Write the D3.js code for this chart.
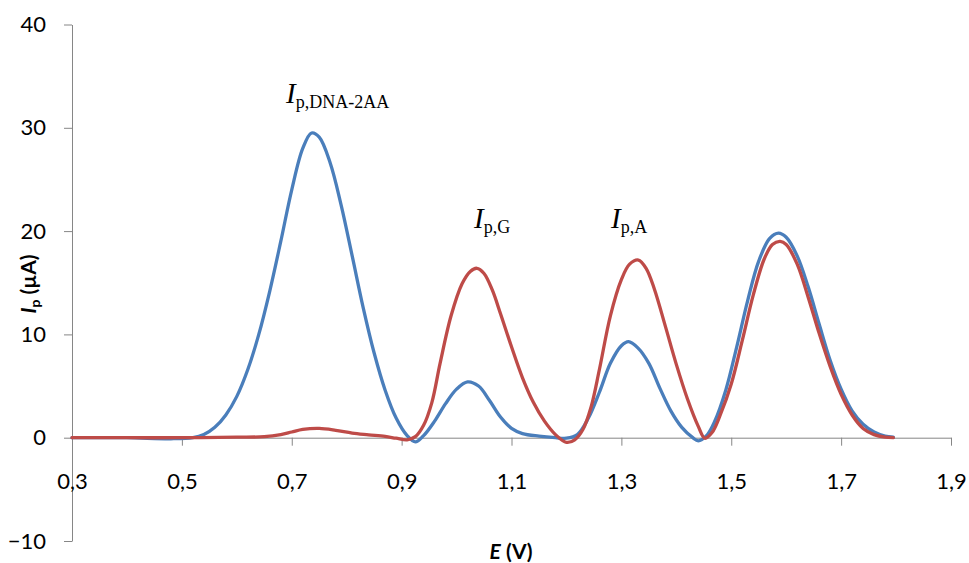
<!DOCTYPE html>
<html><head><meta charset="utf-8">
<script src="https://cdn.jsdelivr.net/npm/d3@7"></script>
<style>body{margin:0;background:#fff}svg{display:block}</style>
</head><body>
<script>
// Data
const xTicks = [0.3, 0.5, 0.7, 0.9, 1.1, 1.3, 1.5, 1.7, 1.9];
const yTicks = [-10, 0, 10, 20, 30, 40];

const blueE = [0.30,0.40,0.48,0.52,0.54,0.56,0.58,0.60,0.62,0.64,0.66,0.68,0.70,0.72,0.736,0.75,0.77,0.79,0.81,0.83,0.85,0.87,0.89,0.91,0.925,0.94,0.96,0.98,1.00,1.02,1.04,1.06,1.08,1.10,1.12,1.15,1.18,1.20,1.22,1.24,1.26,1.28,1.30,1.313,1.33,1.35,1.37,1.39,1.41,1.43,1.44,1.455,1.47,1.49,1.51,1.53,1.55,1.57,1.586,1.60,1.62,1.64,1.66,1.68,1.70,1.72,1.74,1.76,1.78,1.795];
const blueI = [0.0,0.0,-0.1,0.0,0.3,1.0,2.2,4.0,6.6,10.0,14.2,19.0,24.0,28.0,29.5,29.1,26.6,22.5,17.6,12.6,8.2,4.6,1.9,0.2,-0.4,0.2,1.6,3.3,4.7,5.4,5.0,3.6,2.0,0.9,0.4,0.15,0.0,-0.05,0.3,1.9,4.4,7.2,8.9,9.3,8.7,7.2,4.8,2.6,1.0,0.0,-0.3,0.2,1.6,4.6,8.8,13.3,17.1,19.3,19.8,19.4,17.6,14.6,11.0,7.5,4.7,2.6,1.3,0.55,0.15,0.05];

const redE = [0.30,0.40,0.50,0.60,0.65,0.68,0.70,0.72,0.75,0.78,0.81,0.84,0.87,0.89,0.91,0.925,0.94,0.955,0.97,0.99,1.01,1.025,1.037,1.05,1.065,1.08,1.10,1.12,1.14,1.16,1.18,1.20,1.215,1.23,1.245,1.26,1.28,1.30,1.315,1.331,1.345,1.36,1.38,1.40,1.42,1.44,1.452,1.465,1.48,1.50,1.52,1.54,1.56,1.575,1.589,1.60,1.62,1.64,1.66,1.68,1.70,1.72,1.74,1.76,1.78,1.795];
const redI = [0.0,0.0,0.0,0.05,0.1,0.3,0.55,0.8,0.9,0.72,0.45,0.28,0.12,-0.05,-0.2,0.1,1.2,3.4,7.2,11.8,14.9,16.1,16.4,15.9,14.3,12.0,8.8,5.8,3.4,1.6,0.3,-0.45,-0.2,0.8,3.0,6.6,11.8,15.3,16.8,17.2,16.4,14.4,10.8,7.1,3.8,1.1,-0.05,0.5,2.2,5.2,9.4,13.8,17.3,18.7,19.0,18.7,16.8,13.6,10.1,6.9,4.2,2.2,0.9,0.3,0.05,0.0];

const W = 969, H = 563;
const x = d3.scaleLinear().domain([0.3, 1.9]).range([72, 951]);
const y = d3.scaleLinear().domain([-10, 40]).range([541, 24.5]);
const axisColor = "#868686";
const font = "Lato, 'Open Sans', sans-serif";

const svg = d3.select("body").append("svg").attr("width", W).attr("height", H);

// Y axis
const yAxis = svg.append("g").attr("transform", `translate(${x(0.3)},0)`)
  .call(d3.axisLeft(y).tickValues(yTicks).tickSize(8).tickSizeOuter(0).tickPadding(18).tickFormat(d3.format("d")));
yAxis.select(".domain").attr("stroke", axisColor);
yAxis.selectAll(".tick line").attr("stroke", axisColor);
yAxis.selectAll(".tick text").attr("font-family", font).attr("font-size", 22).attr("fill", "#000");

// X axis at y = 0
const xAxis = svg.append("g").attr("transform", `translate(0,${y(0)})`)
  .call(d3.axisBottom(x).tickValues(xTicks).tickSize(8).tickSizeOuter(0).tickPadding(28)
    .tickFormat(d => d3.format(".1f")(d).replace(".", ",")));
xAxis.select(".domain").attr("stroke", axisColor);
xAxis.selectAll(".tick line").attr("stroke", axisColor);
xAxis.selectAll(".tick text").attr("font-family", font).attr("font-size", 22).attr("fill", "#000");

// Lines
const line = d3.line().x(d => x(d[0])).y(d => y(d[1])).curve(d3.curveCatmullRom.alpha(0.5));
const blue = blueE.map((e, i) => [e, blueI[i]]);
const red = redE.map((e, i) => [e, redI[i]]);
svg.append("path").datum(blue).attr("d", line).attr("fill", "none").attr("stroke", "#4A7EBB").attr("stroke-width", 3.3).attr("stroke-linecap", "round").attr("stroke-linejoin", "round");
svg.append("path").datum(red).attr("d", line).attr("fill", "none").attr("stroke", "#BE4B48").attr("stroke-width", 3.3).attr("stroke-linecap", "round").attr("stroke-linejoin", "round");

// Peak annotations
function ann(px, py, sub) {
  const t = svg.append("text").attr("x", px).attr("y", py)
    .attr("font-family", "'Liberation Serif', 'Times New Roman', serif").attr("fill", "#000");
  t.append("tspan").attr("font-style", "italic").attr("font-size", 29).text("I");
  t.append("tspan").attr("font-size", 18).attr("dy", 5).text(sub);
}
ann(286, 103, "p,DNA-2AA");
ann(474, 228, "p,G");
ann(611, 228, "p,A");

// Axis titles
const xt = svg.append("text").attr("x", 511).attr("y", 559).attr("text-anchor", "middle")
  .attr("font-family", font).attr("font-weight", "bold").attr("font-size", 21).attr("fill", "#000");
xt.append("tspan").attr("font-style", "italic").text("E");
xt.append("tspan").text(" (V)");

const yt = svg.append("text").attr("transform", "translate(36,284) rotate(-90)").attr("text-anchor", "middle")
  .attr("font-family", font).attr("font-weight", "bold").attr("font-size", 21).attr("fill", "#000");
yt.append("tspan").attr("font-style", "italic").text("I");
yt.append("tspan").attr("font-size", 14).attr("dy", 4).text("p");
yt.append("tspan").attr("dy", -4).text(" (µA)");
</script>
</body></html>
